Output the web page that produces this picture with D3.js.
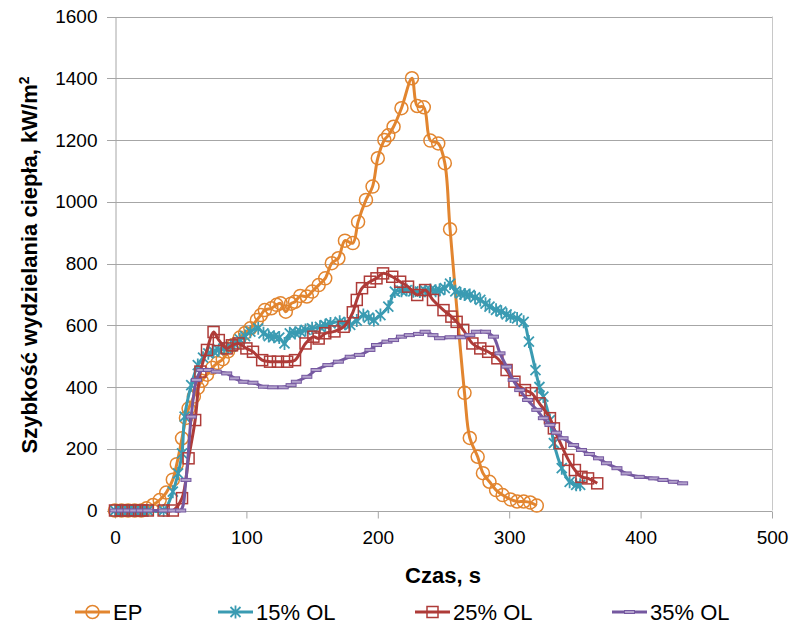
<!DOCTYPE html>
<html>
<head>
<meta charset="utf-8">
<script src="https://cdn.jsdelivr.net/npm/d3@7"></script>
<style>
  body { margin: 0; background: #fff; }
  text { font-family: "Liberation Sans", Arial, sans-serif; fill: #000; }
</style>
</head>
<body>
<div id="chart"></div>
<script>
// series names and colours
const seriesNames = ["EP", "15% OL", "25% OL", "35% OL"];
const seriesColors = ["#E2852F", "#3A9BB2", "#AE3B38", "#7558A0"];
const seriesMarkers = ["circle", "star", "square", "dash"];

const xTicks = [0, 100, 200, 300, 400, 500];
const yTicks = [0, 200, 400, 600, 800, 1000, 1200, 1400, 1600];

// [czas s, HRR kW/m2]
const epData = [
  [0, 0], [5, 0], [10, 0], [15, 0], [20, 0], [24, 7], [29, 18], [34, 34], [39, 58], [44, 100],
  [47, 150], [51, 234], [54, 300], [56, 330], [60, 369], [63, 397], [66, 420], [70, 440],
  [74, 462], [78, 478], [82, 490], [86, 515], [90, 536], [95, 560], [99, 575], [103, 590],
  [108, 617], [111, 633], [114, 649], [119, 655], [123, 666], [126, 671], [130, 644], [134, 670],
  [137, 676], [141, 695], [146, 693], [150, 709], [155, 730], [160, 752], [165, 801], [170, 817],
  [175, 874], [181, 866], [185, 935], [191, 1006], [196, 1049], [200, 1141], [205, 1200],
  [208, 1215], [212, 1243], [218, 1303], [226, 1400], [230, 1310], [235, 1306], [240, 1198],
  [246, 1189], [251, 1125], [255, 911], [266, 381], [270, 235], [276, 174], [280, 121],
  [285, 93], [290, 66], [295, 50], [301, 36], [306, 29], [311, 29], [316, 26], [321, 16]
];

const ol15Data = [
  [0, 0], [5, 0], [10, 0], [15, 0], [20, 0], [25, 0], [37, 0], [44, 61], [48, 120], [51, 185],
  [53, 304], [58, 406], [63, 471], [67, 495], [71, 509], [75, 515], [79, 520], [83, 525],
  [88, 531], [91, 540], [95, 554], [99, 565], [103, 579], [109, 590], [113, 574], [117, 565],
  [121, 563], [125, 560], [129, 541], [133, 574], [137, 575], [141, 579], [145, 585], [150, 590],
  [156, 595], [160, 600], [164, 606], [171, 611], [175, 605], [179, 601], [184, 615], [189, 633],
  [193, 625], [197, 617], [202, 633], [208, 660], [213, 709], [218, 712], [222, 714], [227, 710],
  [232, 709], [236, 712], [240, 714], [244, 712], [247, 714], [251, 720], [255, 735], [259, 710],
  [263, 703], [266, 700], [270, 698], [274, 690], [278, 682], [282, 670], [285, 660], [290, 650],
  [294, 644], [298, 635], [301, 628], [306, 622], [311, 611], [315, 547], [320, 455], [323, 400],
  [326, 369], [331, 293], [334, 218], [340, 137], [346, 93], [351, 83], [354, 83]
];

const ol25Data = [
  [0, 0], [5, 0], [10, 0], [15, 0], [20, 0], [25, 0], [37, 0], [44, 0], [51, 40], [56, 169],
  [61, 293], [65, 450], [70, 520], [75, 578], [79, 552], [85, 525], [89, 535], [94, 541],
  [100, 525], [105, 514], [112, 487], [118, 482], [124, 482], [131, 482], [137, 487], [145, 541],
  [151, 563], [155, 557], [160, 574], [167, 580], [174, 595], [181, 642], [184, 682], [188, 720],
  [194, 741], [199, 752], [204, 768], [211, 757], [217, 741], [223, 725], [230, 698], [236, 714],
  [242, 682], [250, 649], [256, 628], [260, 611], [265, 585], [272, 541], [278, 525], [284, 514],
  [291, 493], [298, 455], [304, 417], [312, 390], [317, 380], [323, 347], [331, 299], [334, 266],
  [339, 218], [345, 164], [350, 131], [355, 109], [360, 104], [367, 88]
];

const ol35Data = [
  [0, 0], [5, 0], [10, 0], [15, 0], [20, 0], [25, 0], [37, 0], [44, 0], [50, 0], [54, 99],
  [58, 304], [62, 423], [66, 455], [71, 455], [77, 450], [85, 444], [91, 428], [98, 417],
  [105, 414], [113, 401], [120, 399], [128, 399], [134, 406], [138, 417], [146, 433], [153, 455],
  [162, 471], [170, 482], [179, 498], [186, 504], [194, 520], [199, 536], [207, 547], [212, 552],
  [218, 563], [224, 568], [231, 572], [236, 579], [242, 568], [247, 558], [255, 561], [263, 561],
  [270, 568], [275, 579], [282, 579], [288, 563], [293, 509], [298, 466], [303, 423], [308, 390],
  [314, 358], [321, 326], [326, 299], [331, 277], [336, 252], [341, 234], [349, 212], [355, 196],
  [361, 183], [368, 169], [374, 153], [382, 137], [389, 120], [399, 109], [410, 104], [417, 99],
  [425, 93], [432, 88]
];

const allSeries = [epData, ol15Data, ol25Data, ol35Data];

const width = 793, height = 625;
const plotLeft = 115, plotRight = 772, plotTop = 16.5, plotBottom = 510.5;

const x = d3.scaleLinear().domain([0, 500]).range([plotLeft, plotRight]);
const y = d3.scaleLinear().domain([0, 1600]).range([plotBottom, plotTop]);

const svg = d3.select("#chart").append("svg")
    .attr("width", width)
    .attr("height", height);

// grid
svg.append("g")
    .selectAll("line")
    .data(yTicks)
    .join("line")
      .attr("x1", plotLeft - 8)
      .attr("x2", plotRight)
      .attr("y1", d => Math.round(y(d)) + 0.5)
      .attr("y2", d => Math.round(y(d)) + 0.5)
      .attr("stroke", "#A6A6A6")
      .attr("stroke-width", 1);

svg.append("line")
    .attr("x1", plotRight + 0.5).attr("x2", plotRight + 0.5)
    .attr("y1", plotTop).attr("y2", plotBottom)
    .attr("stroke", "#C8C8C8");

// y axis
const yAxis = svg.append("g")
    .attr("transform", `translate(${plotLeft + 0.5},0)`)
    .call(d3.axisLeft(y).tickValues(yTicks).tickFormat(d3.format("d")).tickSize(0).tickPadding(18));
yAxis.select(".domain").attr("stroke", "#A6A6A6");
yAxis.selectAll("text").attr("font-size", 19).attr("font-family", "Liberation Sans, Arial, sans-serif").attr("fill", "#000");

// x axis
const xAxis = svg.append("g")
    .attr("transform", `translate(0,${Math.round(plotBottom) + 0.5})`)
    .call(d3.axisBottom(x).tickValues(xTicks).tickFormat(d3.format("d")).tickSize(7).tickPadding(12));
xAxis.select(".domain").attr("stroke", "#A6A6A6").attr("d", `M${plotLeft},0H${plotRight}`);
xAxis.selectAll(".tick line").attr("stroke", "#A6A6A6");
xAxis.selectAll("text").attr("font-size", 19).attr("font-family", "Liberation Sans, Arial, sans-serif").attr("fill", "#000");

// axis titles
svg.append("text")
    .attr("x", 443)
    .attr("y", 583)
    .attr("text-anchor", "middle")
    .attr("font-size", 22)
    .attr("font-weight", "bold")
    .text("Czas, s");

const yTitle = svg.append("text")
    .attr("transform", `translate(37,265) rotate(-90)`)
    .attr("text-anchor", "middle")
    .attr("font-size", 22)
    .attr("font-weight", "bold");
yTitle.append("tspan").text("Szybkość wydzielania ciepła, kW/m");
yTitle.append("tspan").attr("dy", -8).attr("font-size", 14).text("2");

function drawMarker(g, type, color) {
  if (type === "circle") {
    g.append("circle").attr("r", 6.5).attr("fill", "none").attr("stroke", color).attr("stroke-width", 1.5);
  } else if (type === "star") {
    g.append("path")
      .attr("d", "M-5,-5L5,5M-5,5L5,-5M0,-6.5V6.5")
      .attr("stroke", color).attr("stroke-width", 1.8).attr("fill", "none");
  } else if (type === "square") {
    g.append("rect").attr("x", -5.5).attr("y", -5.5).attr("width", 11).attr("height", 11)
      .attr("fill", "none").attr("stroke", color).attr("stroke-width", 1.5);
  } else if (type === "dash") {
    g.append("rect").attr("x", -5).attr("y", -1.5).attr("width", 10).attr("height", 3)
      .attr("fill", "#B3A2CC").attr("stroke", color).attr("stroke-width", 1);
  }
}

const line = d3.line()
    .x(d => x(d[0]))
    .y(d => y(d[1]))
    .curve(d3.curveCatmullRom.alpha(0.5));

allSeries.forEach((data, i) => {
  const g = svg.append("g");
  g.append("path")
      .datum(data)
      .attr("fill", "none")
      .attr("stroke", seriesColors[i])
      .attr("stroke-width", 3)
      .attr("stroke-linejoin", "round")
      .attr("d", line);
  g.selectAll("g.m")
    .data(data)
    .join("g")
      .attr("class", "m")
      .attr("transform", d => `translate(${x(d[0])},${y(d[1])})`)
      .each(function() { drawMarker(d3.select(this), seriesMarkers[i], seriesColors[i]); });
});

// legend
const legendX = [75, 218, 415, 612];
const legend = svg.append("g").attr("transform", "translate(0,612)");
seriesNames.forEach((name, i) => {
  const lg = legend.append("g").attr("transform", `translate(${legendX[i]},0)`);
  lg.append("line").attr("x1", 0).attr("x2", 35).attr("stroke", seriesColors[i]).attr("stroke-width", 3);
  const m = lg.append("g").attr("transform", "translate(17.5,0)");
  drawMarker(m, seriesMarkers[i], seriesColors[i]);
  lg.append("text")
      .attr("x", 38)
      .attr("y", 8)
      .attr("font-size", 22)
      .text(name);
});
</script>
</body>
</html>
